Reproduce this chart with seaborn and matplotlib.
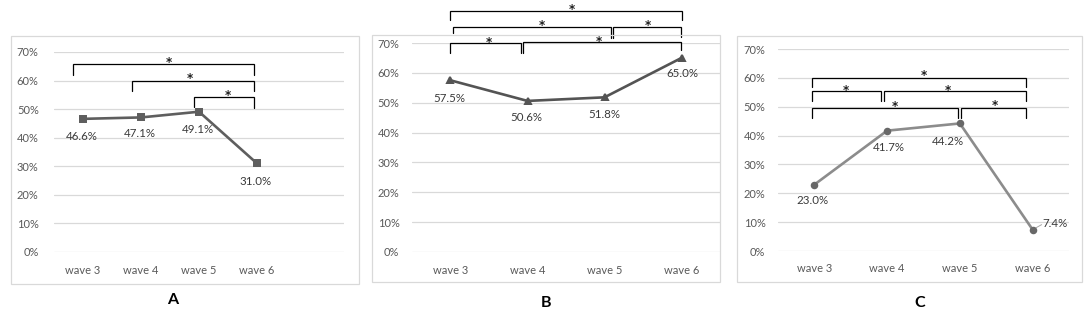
import numpy as np
import pandas as pd
import matplotlib
matplotlib.use("Agg")
import matplotlib.pyplot as plt
from matplotlib.patches import Rectangle
import seaborn as sns

# ---------------- data ----------------
waves = ["wave 3", "wave 4", "wave 5", "wave 6"]
values_a = [46.6, 47.1, 49.1, 31.0]
values_b = [57.5, 50.6, 51.8, 65.0]
values_c = [23.0, 41.7, 44.2, 7.4]
panel_labels = ["A", "B", "C"]
ytick_values = [0, 10, 20, 30, 40, 50, 60, 70]

# significance brackets: (x_left, x_right, y_bar, y_left_end, y_right_end, x_star, y_star)
brackets_a = [
    (-0.17, 2.95, 65.7, 62.0, 62.0, 1.48, 67.6),
    (0.84, 2.95, 59.8, 56.3, 56.3, 1.84, 62.0),
    (1.92, 2.95, 54.4, 50.8, 50.4, 2.50, 56.1),
]
brackets_b = [
    (0.00, 3.00, 80.7, 77.7, 77.7, 1.58, 82.4),
    (0.03, 2.08, 75.3, 73.3, 71.8, 1.18, 77.1),
    (2.11, 2.99, 75.3, 71.8, 72.0, 2.56, 76.9),
    (0.00, 0.91, 69.9, 66.5, 66.6, 0.50, 71.3),
    (0.94, 2.99, 70.2, 66.5, 67.6, 1.93, 71.8),
]
brackets_c = [
    (-0.03, 2.91, 60.1, 57.0, 57.0, 1.50, 62.1),
    (-0.03, 0.92, 55.4, 52.0, 52.0, 0.43, 56.9),
    (0.96, 2.91, 55.4, 52.0, 52.0, 1.83, 56.9),
    (-0.03, 1.97, 49.7, 46.0, 46.0, 1.10, 51.4),
    (2.01, 2.91, 49.7, 46.0, 46.0, 2.48, 51.7),
]

# ---------------- styling ----------------
sns.set_theme(style="white")
plt.rcParams["font.family"] = ["Lato", "DejaVu Sans"]

W, H = 1089, 330
fig = plt.figure(figsize=(W / 100, H / 100), dpi=100)
fig.patch.set_facecolor("white")

def fx(px):
    return px / W

def fy(py):
    return 1 - py / H

panels = [
    dict(values=values_a, brackets=brackets_a, marker="s", color="#5e5e5e", mcolor="#5e5e5e",
         plot=(54, 52, 344, 252), box=(11, 36, 359, 284), xlim=(-0.5, 4.5),
         letter=(173, 300), ms=4.0,
         offsets=[(-1, -18), (-1, -16), (-1, -18), (-1, -18.5)], ha=["center"] * 4),
    dict(values=values_b, brackets=brackets_b, marker="^", color="#545454", mcolor="#545454",
         plot=(412, 43, 720, 252), box=(372, 35, 720, 282), xlim=(-0.5, 3.5),
         letter=(546, 303), ms=4.2,
         offsets=[(-1, -18), (-1, -17), (0, -17), (1, -16)], ha=["center"] * 4),
    dict(values=values_c, brackets=brackets_c, marker="o", color="#8c8c8c", mcolor="#686868",
         plot=(778, 49, 1069, 251), box=(737, 36, 1082, 282), xlim=(-0.5, 3.5),
         letter=(920, 303), ms=4.0,
         offsets=[(-2, -15.5), (2, -17), (-12, -18.5), (10, 6.5)], ha=["center", "center", "center", "left"]),
]

tick_color = "#595959"
label_color = "#3a3a3a"
grid_color = "#d9d9d9"

for i, p in enumerate(panels):
    x0, y0, x1, y1 = p["plot"]
    ax = fig.add_axes([fx(x0), fy(y1), fx(x1 - x0), (y1 - y0) / H])
    df = pd.DataFrame({"wave": waves, "value": p["values"]})
    sns.pointplot(data=df, x="wave", y="value", ax=ax, color=p["color"],
                  markers=p["marker"], linestyles="-", errorbar=None,
                  markersize=p["ms"], linewidth=1.9)
    for coll in ax.collections:
        coll.set_facecolor(p["mcolor"])
        coll.set_edgecolor(p["mcolor"])
    for ln in ax.lines:
        ln.set_markerfacecolor(p["mcolor"])
        ln.set_markeredgecolor(p["mcolor"])
        ln.set_zorder(5)

    ax.set_xlim(*p["xlim"])
    ax.set_ylim(0, 70)
    ax.set_yticks(ytick_values)
    ax.set_yticklabels([f"{v}%" for v in ytick_values])
    ax.set_xlabel("")
    ax.set_ylabel("")
    ax.yaxis.grid(True, color=grid_color, linewidth=0.9)
    ax.xaxis.grid(False)
    ax.set_axisbelow(True)
    for s in ax.spines.values():
        s.set_visible(False)
    ax.tick_params(axis="y", length=0, pad=11 if i == 0 else 9, labelsize=8, labelcolor=tick_color)
    ax.tick_params(axis="x", length=0, pad=9, labelsize=8, labelcolor=tick_color)
    ax.patch.set_alpha(0)

    # data labels
    for j, v in enumerate(p["values"]):
        dx, dy = p["offsets"][j]
        ax.annotate(f"{v:.1f}%", xy=(j, v), xytext=(dx * 0.72, dy * 0.72),
                    textcoords="offset points", ha=p["ha"][j], va="center",
                    fontsize=8.3, color=label_color, zorder=6)
    if i == 2:
        ax.annotate("", xy=(3, p["values"][3]), xytext=(9 * 0.72, 5 * 0.72),
                    textcoords="offset points",
                    arrowprops=dict(arrowstyle="-", color="#a6a6a6", lw=0.7,
                                    shrinkA=0, shrinkB=3))

    # significance brackets
    for (xl, xr, yb, yle, yre, xs, ys) in p["brackets"]:
        ax.plot([xl, xl, xr, xr], [yle, yb, yb, yre], color="black", lw=0.9,
                clip_on=False, solid_joinstyle="miter", zorder=4)
        ax.text(xs, ys - 1.2, "*", ha="center", va="center", fontsize=8.5,
                fontweight="bold", color="#202020", clip_on=False, family="DejaVu Sans")

    # chart border
    bx0, by0, bx1, by1 = p["box"]
    fig.add_artist(Rectangle((fx(bx0), fy(by1)), fx(bx1 - bx0), (by1 - by0) / H,
                             transform=fig.transFigure, fill=False,
                             edgecolor="#d9d9d9", linewidth=0.9))
    lx, ly = p["letter"]
    fig.text(fx(lx), fy(ly), panel_labels[i], ha="center", va="center",
             fontsize=11.5, fontweight="bold", color="black")

fig.savefig("out.png", dpi=100, facecolor="white")
